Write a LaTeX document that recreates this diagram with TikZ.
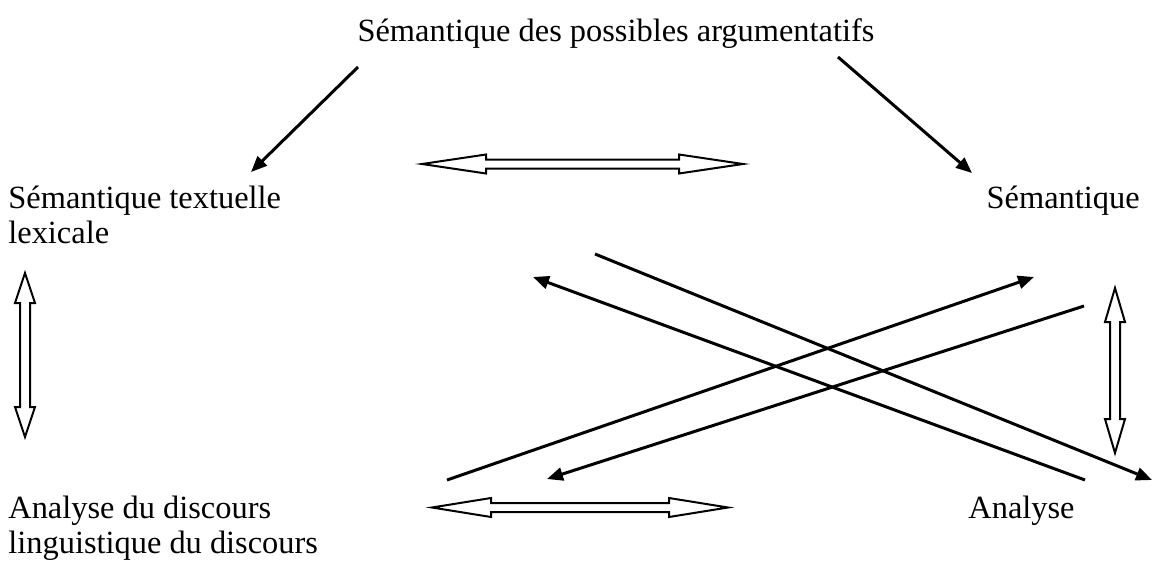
\documentclass[tikz,border=0pt]{standalone}
\usepackage{fontspec}
\setmainfont{Liberation Serif}
\usetikzlibrary{arrows.meta}
\newcommand\hollowdbl[6]{% center, length, rotation, head length, half head, half shaft
  \draw[hollow,shift={#1},rotate=#3]
    (-#2/2,0) -- ++(#4,-#5) -- ++(0,#5-#6) -- (#2/2-#4,-#6) -- ++(0,#6-#5)
    -- (#2/2,0) -- (#2/2-#4,#5) -- ++(0,#6-#5) -- (-#2/2+#4,#6) -- ++(0,#5-#6) -- cycle;}
\tikzset{
  lbl/.style={inner sep=0pt,font=\fontsize{16.2}{17.5}\selectfont},
  blk/.style={line width=1.5pt,-{Triangle[length=8pt,width=6.5pt]}},
  hollow/.style={line width=1pt,fill=white,line join=miter},
}
\begin{document}
\begin{tikzpicture}[x=0.5pt,y=-0.5pt]
\useasboundingbox[fill=white] (0,0) rectangle (1157,563);
% texts
\node[lbl,anchor=base] (top) at (616,41) {Sémantique des possibles argumentatifs};
\node[lbl,anchor=base west] (stl) at (8,208) {Sémantique textuelle};
\node[lbl,anchor=base west] (lex) at (8,243) {lexicale};
\node[lbl,anchor=base east] (sem) at (1140,208) {Sémantique};
\node[lbl,anchor=base west] (adl) at (8,518) {Analyse du discours};
\node[lbl,anchor=base west] (ling) at (8,553) {linguistique du discours};
\node[lbl,anchor=base west] (ana) at (968,518) {Analyse};
% endpoints
\coordinate (a1s) at (358,67);  \coordinate (a1e) at (251,172);
\coordinate (a2s) at (838,57);  \coordinate (a2e) at (972,173);
\coordinate (a3s) at (595,254); \coordinate (a3e) at (1152,480);
\coordinate (a4s) at (1085,480);\coordinate (a4e) at (533,277);
\coordinate (a5s) at (447,480); \coordinate (a5e) at (1034,277);
\coordinate (a6s) at (1084,306);\coordinate (a6e) at (547,479);
\draw[blk] (a1s) -- (a1e);
\draw[blk] (a2s) -- (a2e);
\draw[blk] (a3s) -- (a3e);
\draw[blk] (a4s) -- (a4e);
\draw[blk] (a5s) -- (a5e);
\draw[blk] (a6s) -- (a6e);
% hollow double arrows
\hollowdbl{(582.5,164)}{321}{0}{64}{9.5}{4.5}
\hollowdbl{(580,507.5)}{296}{0}{59}{9.5}{4.5}
\hollowdbl{(25,355)}{164}{90}{30}{10}{5}
\hollowdbl{(1115,370.5)}{165}{90}{34}{10}{5}
\end{tikzpicture}
\end{document}
